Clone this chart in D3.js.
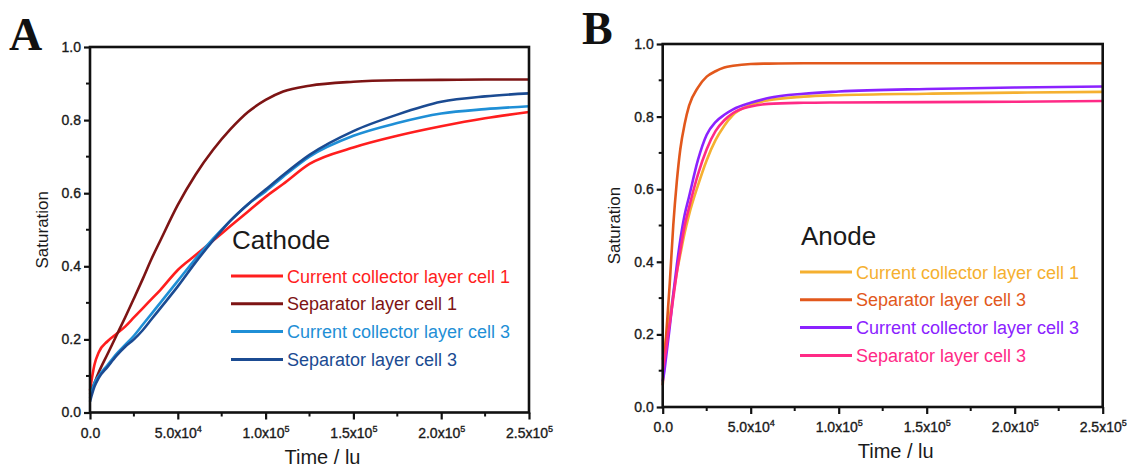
<!DOCTYPE html>
<html>
<head>
<meta charset="utf-8">
<style type="text/css">
  body { margin: 0; background: #fff; }
  svg { display: block; }
  .tick text { font-family: "Liberation Sans", Arial, sans-serif; font-size: 14px; fill: #1a1a1a; stroke: #1a1a1a; stroke-width: 0.35px; }
  .axis-title { font-family: "Liberation Sans", Arial, sans-serif; fill: #1a1a1a; }
  .legend-text { font-family: "Liberation Sans", Arial, sans-serif; font-size: 18px; }
  .panel-letter { font-family: "Liberation Serif", "Times New Roman", serif; font-weight: bold; font-size: 46px; fill: #111; }
</style>
<script src="https://cdnjs.cloudflare.com/ajax/libs/d3/7.8.5/d3.min.js"></script>
</head>
<body>
<div id="vis"></div>
<script>
// ---- data ----
var timeA = [0, 2.5e3, 5e3, 1e4, 1.5e4, 2e4, 2.5e4, 3e4, 3.5e4, 4e4, 5e4, 6e4, 7e4, 8e4, 9e4,
             1e5, 1.1e5, 1.25e5, 1.5e5, 1.75e5, 2e5, 2.25e5, 2.5e5];
var cathodeCC1  = [0.06, 0.13, 0.165, 0.195, 0.215, 0.235, 0.26, 0.285, 0.31, 0.335, 0.39, 0.43, 0.47, 0.51, 0.55,
                   0.59, 0.625, 0.68, 0.725, 0.757, 0.783, 0.805, 0.822];
var cathodeSep1 = [0.05, 0.08, 0.11, 0.16, 0.21, 0.26, 0.312, 0.365, 0.42, 0.47, 0.568, 0.65, 0.718, 0.775, 0.822,
                   0.855, 0.878, 0.894, 0.905, 0.909, 0.91, 0.911, 0.911];
var cathodeCC3  = [0.04, 0.08, 0.10, 0.13, 0.16, 0.185, 0.21, 0.24, 0.27, 0.30, 0.36, 0.42, 0.475, 0.525, 0.57,
                   0.605, 0.645, 0.70, 0.757, 0.792, 0.818, 0.83, 0.838];
var cathodeSep3 = [0.03, 0.07, 0.095, 0.125, 0.155, 0.18, 0.20, 0.225, 0.255, 0.285, 0.345, 0.41, 0.47, 0.525, 0.57,
                   0.61, 0.65, 0.705, 0.77, 0.815, 0.85, 0.865, 0.873];

var timeB = [0, 1e3, 2e3, 3e3, 4e3, 6e3, 8e3, 1e4, 1.25e4, 1.5e4, 2e4, 2.5e4, 3e4, 3.5e4, 4e4, 5e4, 6e4,
             8e4, 1e5, 1.5e5, 2e5, 2.5e5];
var anodeCC1  = [0.13, 0.16, 0.19, 0.22, 0.25, 0.31, 0.37, 0.42, 0.48, 0.53, 0.61, 0.68, 0.735, 0.775, 0.805, 0.832, 0.845,
                 0.855, 0.859, 0.863, 0.866, 0.868];
var anodeSep3 = [0.06, 0.13, 0.20, 0.27, 0.34, 0.50, 0.62, 0.71, 0.78, 0.83, 0.88, 0.91, 0.925, 0.935, 0.94, 0.945, 0.946,
                 0.947, 0.947, 0.947, 0.947, 0.947];
var anodeCC3  = [0.07, 0.10, 0.14, 0.18, 0.22, 0.31, 0.39, 0.46, 0.53, 0.58, 0.68, 0.75, 0.785, 0.805, 0.82, 0.838, 0.851,
                 0.863, 0.869, 0.876, 0.88, 0.883];
var anodePink = [0.10, 0.13, 0.16, 0.20, 0.23, 0.30, 0.37, 0.43, 0.50, 0.55, 0.64, 0.71, 0.76, 0.79, 0.81, 0.828, 0.835,
                 0.838, 0.839, 0.84, 0.841, 0.843];

var labelsA = ["Current collector layer cell 1", "Separator layer cell 1", "Current collector layer cell 3", "Separator layer cell 3"];
var labelsB = ["Current collector layer cell 1", "Separator layer cell 3", "Current collector layer cell 3", "Separator layer cell 3"];
var colorsA = ["#ff1e1e", "#7d1414", "#1f8fd6", "#1b4b92"];
var colorsB = ["#f5b030", "#e2581c", "#8b22ff", "#ff2a86"];

var xTicks = [0, 5e4, 1e5, 1.5e5, 2e5, 2.5e5];
var xTickLabels = [["0.0", ""], ["5.0x10", "4"], ["1.0x10", "5"], ["1.5x10", "5"], ["2.0x10", "5"], ["2.5x10", "5"]];
var yTicks = [0, 0.2, 0.4, 0.6, 0.8, 1.0];

var width = 1130, height = 467;
var svg = d3.select("#vis").append("svg")
    .attr("width", width)
    .attr("height", height);

function drawPanel(opt) {
  var x = d3.scaleLinear().domain([0, 2.5e5]).range([opt.left, opt.right]);
  var y = d3.scaleLinear().domain([0, 1]).range([opt.bottom, opt.top]);
  var g = svg.append("g");

  // panel letter
  g.append("text").attr("class", "panel-letter")
      .attr("x", opt.letterX).attr("y", opt.letterY)
      .text(opt.letter);

  // curves
  var line = d3.line()
      .x(function(d) { return x(d[0]); })
      .y(function(d) { return y(d[1]); })
      .curve(d3.curveMonotoneX);

  opt.series.forEach(function(s, i) {
    var pts = opt.time.map(function(t, j) { return [t, s[j]]; });
    g.append("path")
        .attr("d", line(pts))
        .attr("fill", "none")
        .attr("stroke", opt.colors[i])
        .attr("stroke-width", 2.6)
        .attr("stroke-linejoin", "round");
  });

  // minor ticks
  var minorY = d3.range(0.1, 1.0, 0.2);
  g.selectAll(".minor-y").data(minorY).enter().append("line")
      .attr("x1", opt.left - 4).attr("x2", opt.left)
      .attr("y1", function(d) { return y(d); }).attr("y2", function(d) { return y(d); })
      .attr("stroke", "#111").attr("stroke-width", 2);
  var minorX = d3.range(2.5e4, 2.5e5, 5e4);
  g.selectAll(".minor-x").data(minorX).enter().append("line")
      .attr("x1", function(d) { return x(d); }).attr("x2", function(d) { return x(d); })
      .attr("y1", opt.bottom).attr("y2", opt.bottom + 4)
      .attr("stroke", "#111").attr("stroke-width", 2);

  // axes
  var yAxis = g.append("g")
      .attr("transform", "translate(" + opt.left + ",0)")
      .call(d3.axisLeft(y).tickValues(yTicks).tickFormat(d3.format(".1f")).tickSize(6).tickPadding(3));
  var xAxis = g.append("g")
      .attr("transform", "translate(0," + opt.bottom + ")")
      .call(d3.axisBottom(x).tickValues(xTicks).tickFormat("").tickSize(7));
  [yAxis, xAxis].forEach(function(a) {
    a.select(".domain").remove();
    a.selectAll(".tick line").attr("stroke", "#111").attr("stroke-width", 2.2);
  });

  // x tick labels with superscript exponents
  xAxis.selectAll(".tick").each(function(d, i) {
    var t = d3.select(this).append("text")
        .attr("y", 25)
        .attr("text-anchor", "middle");
    t.append("tspan").text(xTickLabels[i][0]);
    if (xTickLabels[i][1]) {
      t.append("tspan").attr("dy", -6).attr("font-size", "9px").text(xTickLabels[i][1]);
    }
  });

  // frame
  g.append("rect")
      .attr("x", opt.left).attr("y", opt.top)
      .attr("width", opt.right - opt.left).attr("height", opt.bottom - opt.top)
      .attr("fill", "none").attr("stroke", "#111").attr("stroke-width", 2.6);

  // axis titles
  g.append("text").attr("class", "axis-title")
      .attr("text-anchor", "middle").attr("font-size", "20px")
      .attr("x", (opt.left + opt.right) / 2 + 13).attr("y", opt.bottom + 51)
      .text("Time / lu");
  g.append("text").attr("class", "axis-title")
      .attr("text-anchor", "middle").attr("font-size", "17px")
      .attr("transform", "translate(" + opt.yTitleX + "," + ((opt.top + opt.bottom) / 2) + ") rotate(-90)")
      .text("Saturation");

  // legend
  g.append("text").attr("class", "axis-title")
      .attr("x", opt.legX).attr("y", opt.legY)
      .attr("font-size", "26px").attr("fill", "#111")
      .text(opt.title);
  opt.labels.forEach(function(lab, i) {
    var ly = opt.legY + 27 + i * 27.8;
    g.append("line")
        .attr("x1", opt.legX - 1).attr("x2", opt.legX + 51)
        .attr("y1", ly).attr("y2", ly)
        .attr("stroke", opt.colors[i]).attr("stroke-width", 3);
    g.append("text").attr("class", "legend-text")
        .attr("x", opt.legX + 55).attr("y", ly + 6.5)
        .attr("fill", opt.colors[i])
        .text(lab);
  });
}

drawPanel({
  letter: "A", letterX: 9, letterY: 50,
  left: 90, right: 529, top: 47, bottom: 412.5,
  yTitleX: 48,
  time: timeA,
  series: [cathodeCC1, cathodeSep1, cathodeCC3, cathodeSep3],
  colors: colorsA, labels: labelsA,
  title: "Cathode", legX: 232, legY: 249
});

drawPanel({
  letter: "B", letterX: 582, letterY: 44,
  left: 662.7, right: 1102.7, top: 44, bottom: 407,
  yTitleX: 620,
  time: timeB,
  series: [anodeCC1, anodeSep3, anodeCC3, anodePink],
  colors: colorsB, labels: labelsB,
  title: "Anode", legX: 801, legY: 245
});
</script>
</body>
</html>
